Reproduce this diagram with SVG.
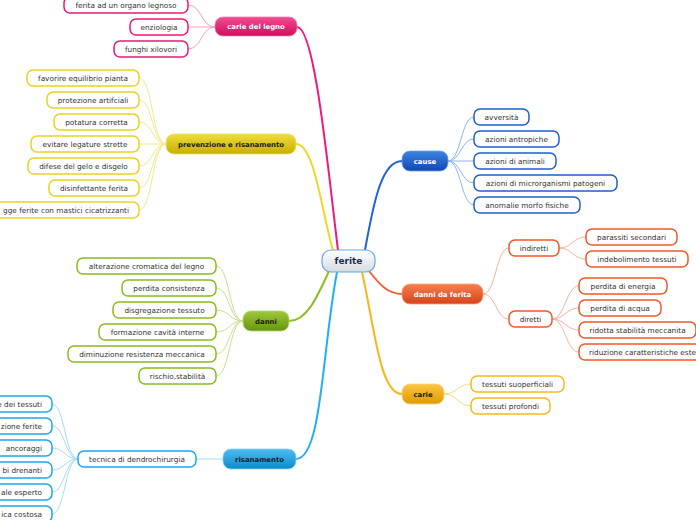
<svg xmlns="http://www.w3.org/2000/svg" width="696" height="520" viewBox="0 0 696 520">
<defs>
<linearGradient id="gC" x1="0" y1="0" x2="0" y2="1"><stop offset="0" stop-color="#ffffff"/><stop offset="1" stop-color="#d5dbe1"/></linearGradient>
<linearGradient id="gPink" x1="0" y1="0" x2="0" y2="1"><stop offset="0" stop-color="#f24d92"/><stop offset="1" stop-color="#cf0b5c"/></linearGradient>
<linearGradient id="gYel" x1="0" y1="0" x2="0" y2="1"><stop offset="0" stop-color="#eedd3c"/><stop offset="1" stop-color="#c8ae00"/></linearGradient>
<linearGradient id="gBlue" x1="0" y1="0" x2="0" y2="1"><stop offset="0" stop-color="#3f84e2"/><stop offset="1" stop-color="#0f48b2"/></linearGradient>
<linearGradient id="gOr" x1="0" y1="0" x2="0" y2="1"><stop offset="0" stop-color="#f6804f"/><stop offset="1" stop-color="#d6431a"/></linearGradient>
<linearGradient id="gGr" x1="0" y1="0" x2="0" y2="1"><stop offset="0" stop-color="#9ec83e"/><stop offset="1" stop-color="#66960e"/></linearGradient>
<linearGradient id="gGold" x1="0" y1="0" x2="0" y2="1"><stop offset="0" stop-color="#fcc545"/><stop offset="1" stop-color="#de9a00"/></linearGradient>
<linearGradient id="gLb" x1="0" y1="0" x2="0" y2="1"><stop offset="0" stop-color="#4dbcf0"/><stop offset="1" stop-color="#0c8acc"/></linearGradient>
</defs>
<style>
text{font-family:"DejaVu Sans",Verdana,sans-serif}
.l{font-size:7.3px;fill:#333333;text-anchor:middle}
.le{font-size:7.3px;fill:#333333;text-anchor:end}
.b{font-size:6.9px;font-weight:bold;text-anchor:middle}
.w{fill:#ffffff}
.d{fill:#1a1a1a}
.leaf{fill:#ffffff;stroke-width:1.5}
.br{stroke-width:1}
.pk{stroke:#ea1a72}
.ye{stroke:#e8d31c}
.bl{stroke:#1e5fd0}
.or{stroke:#f0582a}
.gr{stroke:#8bbb1e}
.go{stroke:#f8b81a}
.lb{stroke:#1ea6ea}
.c path{fill:none}
.m{stroke-width:2}
.s{stroke-width:1}
</style>
<g id="connectors" class="c">
<path class="m" stroke="#f0197a" d="M297,27 C315,27 328,170 338,250"/>
<path class="m" stroke="#ecd82a" d="M296,144 C315,144 322,215 333,250"/>
<path class="m" stroke="#1f63d6" d="M365,250 C374,200 382,161 402,161"/>
<path class="m" stroke="#f0643a" d="M369,271 C380,285 388,294 402,294"/>
<path class="m" stroke="#f9b51a" d="M362,272 C375,330 380,394 402,394"/>
<path class="m" stroke="#8dbf22" d="M329,271 C316,300 306,321 289,321"/>
<path class="m" stroke="#22aef0" d="M337,272 C322,350 322,459 296,459"/>
<g stroke="#f9a0c4" class="s">
<path d="M215,27 C201,27 202,5 188,5"/><path d="M215,27 L188,27"/><path d="M215,27 C201,27 202,49 188,49"/>
</g>
<g stroke="#f2e88a" class="s">
<path d="M166,144 C152,144 153,78 139,78"/><path d="M166,144 C152,144 153,100 139,100"/><path d="M166,144 C152,144 153,122 139,122"/><path d="M166,144 L139,144"/><path d="M166,144 C152,144 153,166 139,166"/><path d="M166,144 C152,144 153,188 139,188"/><path d="M166,144 C152,144 153,210 139,210"/>
</g>
<g stroke="#c8e090" class="s">
<path d="M243,321 C229,321 230,266 216,266"/><path d="M243,321 C229,321 230,288 216,288"/><path d="M243,321 C229,321 230,310 216,310"/><path d="M243,321 C229,321 230,332 216,332"/><path d="M243,321 C229,321 230,354 216,354"/><path d="M243,321 C229,321 230,376 216,376"/>
</g>
<g stroke="#90b5ee" class="s">
<path d="M448,161 C461,161 461,117 474,117"/><path d="M448,161 C461,161 461,139 474,139"/><path d="M448,161 L474,161"/><path d="M448,161 C461,161 461,183 474,183"/><path d="M448,161 C461,161 461,205 474,205"/>
</g>
<g stroke="#f8b09a" class="s">
<path d="M483,294 C496,294 496,248 509,248"/><path d="M483,294 C496,294 496,319 509,319"/>
<path d="M559,248 C572,248 573,237 586,237"/><path d="M559,248 C572,248 573,259 586,259"/>
<path d="M552,319 C565,319 566,286 579,286"/><path d="M552,319 C565,319 566,308 579,308"/><path d="M552,319 C565,319 566,330 579,330"/><path d="M552,319 C565,319 566,352 579,352"/>
</g>
<g stroke="#fcd88a" class="s">
<path d="M444,394 C457,394 458,384 471,384"/><path d="M444,394 C457,394 458,406 471,406"/>
</g>
<g stroke="#a3dcf5" class="s">
<path d="M223,459 L196,459"/>
<path d="M78,459 C65,459 65,404 52,404"/><path d="M78,459 C65,459 65,426 52,426"/><path d="M78,459 C65,459 65,448 52,448"/><path d="M78,459 C65,459 65,470 52,470"/><path d="M78,459 C65,459 65,492 52,492"/><path d="M78,459 C65,459 65,514 52,514"/>
</g>
</g>
<g id="n-ferite"><rect x="322" y="250" width="53" height="22" rx="9" fill="url(#gC)" stroke="#6aa8dc" stroke-width="1.2"/><text x="348.5" y="264.3" style="font-size:9px;font-weight:bold;text-anchor:middle;fill:#1a2b4c">ferite</text></g>
<g id="n-carie-legno"><rect x="215" y="17" width="82" height="19" rx="8" fill="url(#gPink)" stroke="#f27aab" stroke-width="0.8"/><text class="b w" x="256" y="29">carie del legno</text></g>
<g id="n-prevenzione"><rect x="166" y="134" width="130" height="20" rx="8" fill="url(#gYel)" stroke="#efe26a" stroke-width="0.8"/><text class="b d" x="231" y="146.5">prevenzione e risanamento</text></g>
<g id="n-cause"><rect x="402" y="151" width="46" height="20" rx="8" fill="url(#gBlue)" stroke="#6f9fe6" stroke-width="0.8"/><text class="b w" x="425" y="163.5">cause</text></g>
<g id="n-danni-ferita"><rect x="402" y="284" width="81" height="20" rx="8" fill="url(#gOr)" stroke="#f7a386" stroke-width="0.8"/><text class="b w" x="442.5" y="296.5">danni da ferita</text></g>
<g id="n-danni"><rect x="243" y="311" width="46" height="20" rx="8" fill="url(#gGr)" stroke="#b5d66c" stroke-width="0.8"/><text class="b d" x="266" y="323.5">danni</text></g>
<g id="n-carie"><rect x="402" y="384" width="42" height="20" rx="8" fill="url(#gGold)" stroke="#fdd577" stroke-width="0.8"/><text class="b d" x="423" y="396.5">carie</text></g>
<g id="n-risanamento"><rect x="223" y="449" width="73" height="20" rx="8" fill="url(#gLb)" stroke="#86d0f4" stroke-width="0.8"/><text class="b d" x="259.5" y="461.5">risanamento</text></g>

<g id="n-ferita-organo"><rect class="leaf pk" x="64" y="-3" width="124" height="16" rx="6"/><text class="l" x="126" y="7.6">ferita ad un organo legnoso</text></g>
<g id="n-enziologia"><rect class="leaf pk" x="130" y="19" width="58" height="16" rx="6"/><text class="l" x="159" y="29.6">enziologia</text></g>
<g id="n-funghi"><rect class="leaf pk" x="114" y="41" width="74" height="16" rx="6"/><text class="l" x="151" y="51.6">funghi xilovori</text></g>

<g id="n-favorire"><rect class="leaf ye" x="27" y="70" width="112" height="16" rx="6"/><text class="l" x="83" y="80.6">favorire equilibrio pianta</text></g>
<g id="n-protezione"><rect class="leaf ye" x="47" y="92" width="92" height="16" rx="6"/><text class="l" x="93" y="102.6">protezione artifciali</text></g>
<g id="n-potatura"><rect class="leaf ye" x="54" y="114" width="85" height="16" rx="6"/><text class="l" x="96.5" y="124.6">potatura corretta</text></g>
<g id="n-evitare"><rect class="leaf ye" x="31" y="136" width="108" height="16" rx="6"/><text class="l" x="85" y="146.6">evitare legature strette</text></g>
<g id="n-difese"><rect class="leaf ye" x="28" y="158" width="111" height="16" rx="6"/><text class="l" x="83.5" y="168.6">difese del gelo e disgelo</text></g>
<g id="n-disinfettante"><rect class="leaf ye" x="49" y="180" width="90" height="16" rx="6"/><text class="l" x="94" y="190.6">disinfettante ferita</text></g>
<g id="n-mastici"><rect class="leaf ye" x="-12" y="202" width="151" height="16" rx="6"/><text class="le" x="129" y="212.6">gge ferite con mastici cicatrizzanti</text></g>

<g id="n-avversita"><rect class="leaf bl" x="474" y="109" width="55" height="16" rx="6"/><text class="l" x="501.5" y="119.6">avversità</text></g>
<g id="n-antropiche"><rect class="leaf bl" x="474" y="131" width="85" height="16" rx="6"/><text class="l" x="516.5" y="141.6">azioni antropiche</text></g>
<g id="n-animali"><rect class="leaf bl" x="474" y="153" width="82" height="16" rx="6"/><text class="l" x="515" y="163.6">azioni di animali</text></g>
<g id="n-microrganismi"><rect class="leaf bl" x="474" y="175" width="143" height="16" rx="6"/><text class="l" x="545.5" y="185.6">azioni di microrganismi patogeni</text></g>
<g id="n-anomalie"><rect class="leaf bl" x="474" y="197" width="106" height="16" rx="6"/><text class="l" x="527" y="207.6">anomalie morfo fisiche</text></g>

<g id="n-indiretti"><rect class="leaf or" x="509" y="240" width="50" height="16" rx="6"/><text class="l" x="534" y="250.6">indiretti</text></g>
<g id="n-diretti"><rect class="leaf or" x="509" y="311" width="43" height="16" rx="6"/><text class="l" x="530.5" y="321.6">diretti</text></g>
<g id="n-parassiti"><rect class="leaf or" x="586" y="229" width="91" height="16" rx="6"/><text class="l" x="631.5" y="239.6">parassiti secondari</text></g>
<g id="n-indebolimento"><rect class="leaf or" x="586" y="251" width="102" height="16" rx="6"/><text class="l" x="637" y="261.6">indebolimento tessuti</text></g>
<g id="n-energia"><rect class="leaf or" x="579" y="278" width="88" height="16" rx="6"/><text class="l" x="623" y="288.6">perdita di energia</text></g>
<g id="n-acqua"><rect class="leaf or" x="579" y="300" width="82" height="16" rx="6"/><text class="l" x="620" y="310.6">perdita di acqua</text></g>
<g id="n-stabilita"><rect class="leaf or" x="579" y="322" width="117" height="16" rx="6"/><text class="l" x="637.5" y="332.6">ridotta stabilità meccanita</text></g>
<g id="n-estetiche"><rect class="leaf or" x="579" y="344" width="140" height="16" rx="6"/><text x="589" y="354.6" style="font-size:7.3px;fill:#333333">riduzione caratteristiche este</text></g>

<g id="n-alterazione"><rect class="leaf gr" x="77" y="258" width="139" height="16" rx="6"/><text class="l" x="146.5" y="268.6">alterazione cromatica del legno</text></g>
<g id="n-consistenza"><rect class="leaf gr" x="122" y="280" width="94" height="16" rx="6"/><text class="l" x="169" y="290.6">perdita consistenza</text></g>
<g id="n-disgregazione"><rect class="leaf gr" x="113" y="302" width="103" height="16" rx="6"/><text class="l" x="164.5" y="312.6">disgregazione tessuto</text></g>
<g id="n-cavita"><rect class="leaf gr" x="99" y="324" width="117" height="16" rx="6"/><text class="l" x="157.5" y="334.6">formazione cavità interne</text></g>
<g id="n-resistenza"><rect class="leaf gr" x="68" y="346" width="148" height="16" rx="6"/><text class="l" x="142" y="356.6">diminuzione resistenza meccanica</text></g>
<g id="n-rischio"><rect class="leaf gr" x="139" y="368" width="77" height="16" rx="6"/><text class="l" x="177.5" y="378.6">rischio,stabilità</text></g>

<g id="n-superficiali"><rect class="leaf go" x="471" y="376" width="93" height="16" rx="6"/><text class="l" x="517.5" y="386.6">tessuti suoperficiali</text></g>
<g id="n-profondi"><rect class="leaf go" x="471" y="398" width="79" height="16" rx="6"/><text class="l" x="510.5" y="408.6">tessuti profondi</text></g>

<g id="n-tecnica"><rect class="leaf lb" x="78" y="451" width="118" height="16" rx="6"/><text class="l" x="137" y="461.6">tecnica di dendrochirurgia</text></g>
<g id="n-r1"><rect class="leaf lb" x="-20" y="396" width="72" height="16" rx="6"/><text class="le" x="42" y="406.6">e dei tessuti</text></g>
<g id="n-r2"><rect class="leaf lb" x="-20" y="418" width="72" height="16" rx="6"/><text class="le" x="42" y="428.6">zione ferite</text></g>
<g id="n-r3"><rect class="leaf lb" x="-20" y="440" width="72" height="16" rx="6"/><text class="le" x="42" y="450.6">ancoraggi</text></g>
<g id="n-r4"><rect class="leaf lb" x="-20" y="462" width="72" height="16" rx="6"/><text class="le" x="42" y="472.6">bi drenanti</text></g>
<g id="n-r5"><rect class="leaf lb" x="-20" y="484" width="72" height="16" rx="6"/><text class="le" x="42" y="494.6">ale esperto</text></g>
<g id="n-r6"><rect class="leaf lb" x="-20" y="506" width="72" height="16" rx="6"/><text class="le" x="42" y="516.6">ica costosa</text></g>
</svg>
